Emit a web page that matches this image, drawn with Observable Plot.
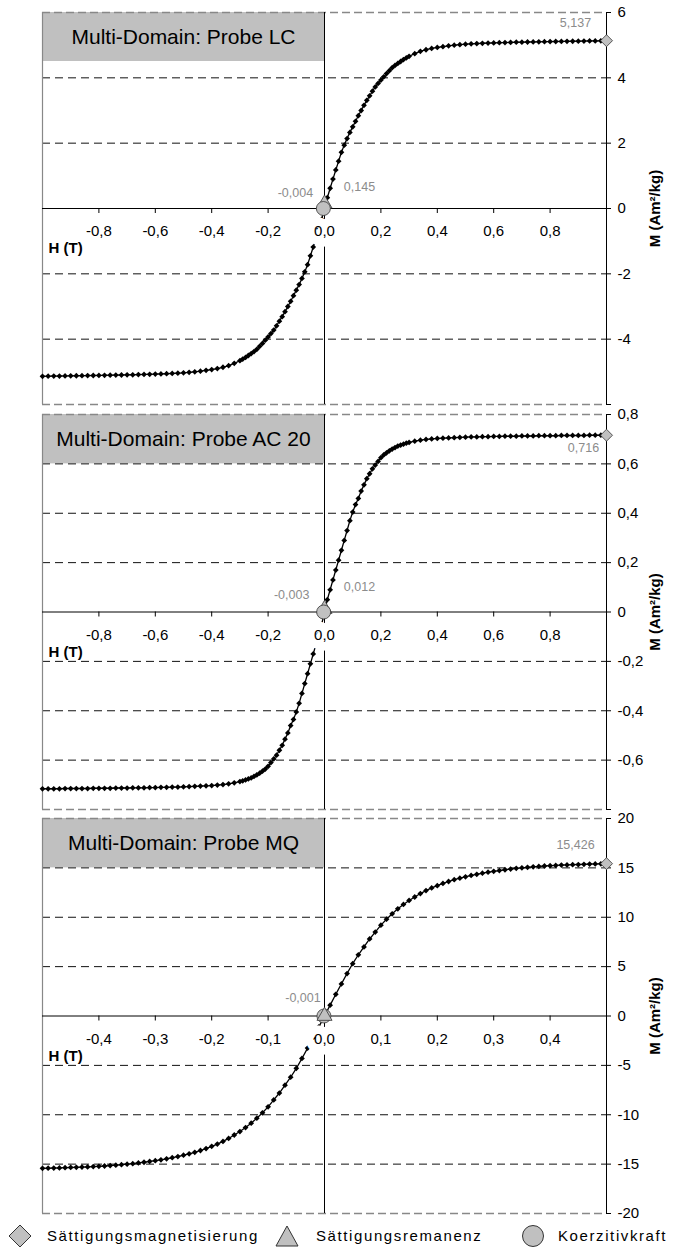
<!DOCTYPE html>
<html><head><meta charset="utf-8">
<script src="https://cdn.jsdelivr.net/npm/d3@7"></script>
<script src="https://cdn.jsdelivr.net/npm/@observablehq/plot@0.6"></script>
<style>
body{margin:0;background:#fff;font-family:"Liberation Sans",Arial,sans-serif;}
#wrap{width:675px;}
#wrap svg{display:block;overflow:visible;}
#legend{position:relative;width:675px;height:40px;font-family:"Liberation Sans",Arial,sans-serif;font-size:15px;letter-spacing:1.6px;color:#000;}
#legend .sym{position:absolute;top:6px;}
#legend .lab{position:absolute;top:9px;line-height:18px;white-space:nowrap;}
</style></head><body>
<div id="wrap"></div>
<script>
// ---------- data ----------
const hWide = [-1.00,-0.98,-0.96,-0.94,-0.92,-0.90,-0.88,-0.86,-0.84,-0.82,-0.80,-0.78,-0.76,-0.74,-0.72,-0.70,-0.68,-0.66,-0.64,-0.62,-0.60,-0.58,-0.56,-0.54,-0.52,-0.50,-0.48,-0.46,-0.44,-0.42,-0.40,-0.38,-0.36,-0.34,-0.32,
 -0.30,-0.29,-0.28,-0.27,-0.26,-0.25,-0.24,-0.23,-0.22,-0.21,-0.20,-0.19,-0.18,-0.17,-0.16,-0.15,-0.14,-0.13,-0.12,-0.11,-0.10,-0.09,-0.08,-0.07,-0.06,-0.05,-0.04,-0.03,-0.02,-0.01,
 0,0.01,0.02,0.03,0.04,0.05,0.06,0.07,0.08,0.09,0.10,0.11,0.12,0.13,0.14,0.15,0.16,0.17,0.18,0.19,0.20,0.21,0.22,0.23,0.24,0.25,0.26,0.27,0.28,0.29,0.30,
 0.32,0.34,0.36,0.38,0.40,0.42,0.44,0.46,0.48,0.50,0.52,0.54,0.56,0.58,0.60,0.62,0.64,0.66,0.68,0.70,0.72,0.74,0.76,0.78,0.80,0.82,0.84,0.86,0.88,0.90,0.92,0.94,0.96,0.98,1.00];

const lcM = [-5.137,-5.134,-5.131,-5.129,-5.126,-5.123,-5.12,-5.118,-5.115,-5.112,-5.109,-5.106,-5.103,-5.10,-5.097,-5.093,-5.09,-5.085,-5.08,-5.076,-5.07,-5.065,-5.058,-5.05,-5.04,-5.03,-5.015,-5.00,-4.98,-4.955,-4.93,-4.90,-4.86,-4.81,-4.74,
 -4.66,-4.61,-4.56,-4.50,-4.44,-4.38,-4.31,-4.22,-4.13,-4.03,-3.93,-3.83,-3.72,-3.59,-3.45,-3.31,-3.16,-3.00,-2.84,-2.67,-2.50,-2.33,-2.14,-1.94,-1.72,-1.45,-1.18,-0.90,-0.62,-0.33,
 0,0.33,0.62,0.90,1.18,1.45,1.72,1.94,2.14,2.33,2.50,2.67,2.84,3.00,3.16,3.31,3.45,3.59,3.72,3.83,3.93,4.03,4.13,4.22,4.31,4.38,4.44,4.50,4.56,4.61,4.66,
 4.74,4.81,4.86,4.90,4.93,4.955,4.98,5.00,5.015,5.03,5.04,5.05,5.058,5.065,5.07,5.076,5.08,5.085,5.09,5.093,5.097,5.10,5.103,5.106,5.109,5.112,5.115,5.118,5.12,5.123,5.126,5.129,5.131,5.134,5.137];

const ac20M = [-0.716,-0.716,-0.716,-0.716,-0.715,-0.715,-0.715,-0.715,-0.715,-0.714,-0.714,-0.714,-0.714,-0.713,-0.713,-0.713,-0.712,-0.712,-0.712,-0.711,-0.711,-0.710,-0.710,-0.709,-0.709,-0.708,-0.707,-0.706,-0.705,-0.704,-0.703,-0.701,-0.699,-0.696,-0.692,
 -0.687,-0.684,-0.68,-0.676,-0.672,-0.666,-0.66,-0.653,-0.645,-0.636,-0.625,-0.61,-0.595,-0.58,-0.56,-0.54,-0.515,-0.49,-0.46,-0.435,-0.405,-0.37,-0.33,-0.29,-0.25,-0.21,-0.17,-0.13,-0.09,-0.05,
 0,0.05,0.09,0.13,0.17,0.21,0.25,0.29,0.33,0.37,0.405,0.435,0.46,0.49,0.515,0.54,0.56,0.58,0.595,0.61,0.625,0.636,0.645,0.653,0.66,0.666,0.672,0.676,0.68,0.684,0.687,
 0.692,0.696,0.699,0.701,0.703,0.704,0.705,0.706,0.707,0.708,0.709,0.709,0.710,0.710,0.711,0.711,0.712,0.712,0.712,0.713,0.713,0.713,0.714,0.714,0.714,0.714,0.715,0.715,0.715,0.715,0.715,0.716,0.716,0.716,0.716];

const hMQ = [-0.50,-0.49,-0.48,-0.47,-0.46,-0.45,-0.44,-0.43,-0.42,-0.41,-0.40,-0.39,-0.38,-0.37,-0.36,-0.35,-0.34,-0.33,-0.32,-0.31,-0.30,-0.29,-0.28,-0.27,-0.26,-0.25,-0.24,-0.23,-0.22,-0.21,-0.20,-0.19,-0.18,-0.17,-0.16,-0.15,-0.14,-0.13,-0.12,-0.11,-0.10,-0.09,-0.08,-0.07,-0.06,-0.05,-0.04,-0.03,-0.02,-0.01,
 0,0.01,0.02,0.03,0.04,0.05,0.06,0.07,0.08,0.09,0.10,0.11,0.12,0.13,0.14,0.15,0.16,0.17,0.18,0.19,0.20,0.21,0.22,0.23,0.24,0.25,0.26,0.27,0.28,0.29,0.30,0.31,0.32,0.33,0.34,0.35,0.36,0.37,0.38,0.39,0.40,0.41,0.42,0.43,0.44,0.45,0.46,0.47,0.48,0.49,0.50];

const mqM = [-15.426,-15.41,-15.40,-15.38,-15.36,-15.34,-15.32,-15.30,-15.28,-15.25,-15.22,-15.19,-15.15,-15.11,-15.06,-15.01,-14.95,-14.88,-14.81,-14.73,-14.65,-14.56,-14.46,-14.35,-14.23,-14.1,-13.96,-13.8,-13.62,-13.42,-13.2,-12.97,-12.7,-12.4,-12.05,-11.7,-11.3,-10.85,-10.35,-9.8,-9.2,-8.5,-7.8,-7.0,-6.2,-5.3,-4.3,-3.25,-2.2,-1.1,
 0,1.1,2.2,3.25,4.3,5.3,6.2,7.0,7.8,8.5,9.2,9.8,10.35,10.85,11.3,11.7,12.05,12.4,12.7,12.97,13.2,13.42,13.62,13.8,13.96,14.1,14.23,14.35,14.46,14.56,14.65,14.73,14.81,14.88,14.95,15.01,15.06,15.11,15.15,15.19,15.22,15.25,15.28,15.30,15.32,15.34,15.36,15.38,15.40,15.41,15.426];

const panelTitles = ["Multi-Domain: Probe LC", "Multi-Domain: Probe AC 20", "Multi-Domain: Probe MQ"];
const saturation = [5.137, 0.716, 15.426];      // Sättigungsmagnetisierung
const remanence  = [0.145, 0.012, 0.0];         // Sättigungsremanenz
const coercivity = [-0.004, -0.003, -0.001];    // Koerzitivkraft
const saturationLabels = ["5,137", "0,716", "15,426"];
const remanenceLabels  = ["0,145", "0,012", ""];
const coercivityLabels = ["-0,004", "-0,003", "-0,001"];

const xTicksWide = [-0.8,-0.6,-0.4,-0.2,0.0,0.2,0.4,0.6,0.8];
const xTicksMQ   = [-0.4,-0.3,-0.2,-0.1,0.0,0.1,0.2,0.3,0.4];
const yTicksLC   = [-6,-4,-2,0,2,4,6];
const yTicksAC   = [-0.8,-0.6,-0.4,-0.2,0,0.2,0.4,0.6,0.8];
const yTicksMQ   = [-20,-15,-10,-5,0,5,10,15,20];
const yLabelsLC  = [-4,-2,0,2,4,6];
const yLabelsAC  = [-0.6,-0.4,-0.2,0,0.2,0.4,0.6,0.8];
const yLabelsMQ  = [-20,-15,-10,-5,0,5,10,15,20];

const xAxisTitle = "H (T)";
const yAxisTitle = "M (Am²/kg)";
const legendItems = ["Sättigungsmagnetisierung", "Sättigungsremanenz", "Koerzitivkraft"];

// ---------- drawing ----------
const FONT = "'Liberation Sans', Arial, sans-serif";
const comma = (d, n) => d.toFixed(n).replace(".", ",").replace("-0,0", "0,0");

function panel(cfg) {
  const W = 675, ml = 42, mrg = 69;
  const plotH = cfg.height - cfg.mt - cfg.mb, plotW = W - ml - mrg;
  const [x0, x1] = cfg.xDom, [y0, y1] = cfg.yDom;
  const ypp = (y1 - y0) / plotH, xpp = (x1 - x0) / plotW;
  const data = cfg.H.map((h, i) => ({h, m: cfg.M[i]}));
  const grid = cfg.yTicks.filter(v => v !== 0 && v !== y0 && v !== y1);
  const xNonZero = cfg.xTicks.filter(v => v !== 0);
  const i = cfg.idx;
  const tri = Plot.dot([0], {x: () => 0, y: () => remanence[i], symbol: "triangle", r: 5.6, fill: "#c0c0c0", stroke: "#333", strokeWidth: 0.8});
  const circ = Plot.dot([0], {x: () => coercivity[i], y: () => 0, r: 7, fill: "#c0c0c0", stroke: "#333", strokeWidth: 0.8});
  const special = cfg.triOnTop ? [circ, tri] : [tri, circ];
  return Plot.plot({
    width: W, height: cfg.height,
    marginLeft: ml, marginRight: mrg, marginTop: cfg.mt, marginBottom: cfg.mb,
    x: {domain: cfg.xDom, axis: null},
    y: {domain: cfg.yDom, axis: null},
    style: {fontFamily: FONT, background: "transparent", overflow: "visible"},
    marks: [
      // title box
      Plot.rect([0], {x1: () => x0, x2: () => 0, y1: () => y1 - (y1 - y0) / 8, y2: () => y1, fill: "#c0c0c0"}),
      // gridlines
      Plot.ruleY(grid, {stroke: "#111", strokeDasharray: "8,5", strokeWidth: 1}),
      Plot.ruleY([y0, y1], {stroke: "#888", strokeDasharray: "8,4", strokeWidth: 1.6}),
      Plot.ruleX([x0], {stroke: "#888", strokeWidth: 1.2}),
      // axes
      Plot.ruleY([0], {stroke: "#000", strokeWidth: 1}),
      Plot.ruleX([0, x1], {stroke: "#000", strokeWidth: 1}),
      Plot.ruleX(xNonZero, {x: d => d, y1: () => 0, y2: () => -5 * ypp, stroke: "#000"}),
      Plot.ruleY(cfg.yTicks, {y: d => d, x1: () => x1, x2: () => x1 + 5 * xpp, stroke: "#000"}),
      // curve
      Plot.line(data, {x: "h", y: "m", stroke: "#000", strokeWidth: 1.3}),
      Plot.dot(data, {x: "h", y: "m", symbol: "diamond2", r: 2.6, fill: "#000", stroke: "none"}),
      // tick labels
      Plot.text(xNonZero, {x: d => d, y: () => 0, dy: 23, text: d => comma(d, cfg.xDigits), fontSize: 15, fill: "#000"}),
      Plot.text([0], {x: () => 0, y: () => 0, dy: 23, text: () => "0,0", fontSize: 15, fill: "#000",
        stroke: "white", strokeWidth: 17, strokeLinejoin: "round", paintOrder: "stroke"}),
      Plot.text(cfg.yLabels, {x: () => x1, y: d => d, dx: 11, textAnchor: "start", text: cfg.fmtY, fontSize: 15, fill: "#000"}),
      // axis titles
      Plot.text([0], {x: () => x0, y: () => 0, dx: 6, dy: 40, textAnchor: "start", text: () => xAxisTitle, fontSize: 15, fontWeight: "bold", fill: "#000"}),
      Plot.text([0], {x: () => x1, y: () => (y0 + y1) / 2, dx: 49, rotate: -90, text: () => yAxisTitle, fontSize: 15, fontWeight: "bold", fill: "#000"}),
      // panel title
      Plot.text([panelTitles[i]], {x: () => (x0 + 0) / 2, y: () => y1 - (y1 - y0) / 16, text: d => d, fontSize: 21, fill: "#000"}),
      // special markers
      ...special,
      Plot.dot([0], {x: () => x1, y: () => saturation[i], symbol: "diamond2", r: 5.4, fill: "#c0c0c0", stroke: "#333", strokeWidth: 0.8}),
      // annotations
      Plot.text([saturationLabels[i]], {x: () => x1, y: () => saturation[i], dx: cfg.msOff[0], dy: cfg.msOff[1], text: d => d, fontSize: 12.5, fill: "#8c8c8c"}),
      Plot.text([coercivityLabels[i]], {x: () => coercivity[i], y: () => 0, dx: cfg.hcOff[0], dy: cfg.hcOff[1], text: d => d, fontSize: 12.5, fill: "#8c8c8c"}),
      Plot.text([remanenceLabels[i]], {x: () => 0, y: () => remanence[i], dx: cfg.mrOff[0], dy: cfg.mrOff[1], text: d => d, fontSize: 12.5, fill: "#8c8c8c"})
    ]
  });
}

const wrap = document.getElementById("wrap");
wrap.append(panel({idx: 0, H: hWide, M: lcM, xDom: [-1, 1], yDom: [-6, 6], xTicks: xTicksWide, xDigits: 1,
  yTicks: yTicksLC, yLabels: yLabelsLC, fmtY: d => String(d), height: 409, mt: 12, mb: 5,
  msOff: [-31, -18], hcOff: [-28, -16], mrOff: [35, -17], triOnTop: false}));
wrap.append(panel({idx: 1, H: hWide, M: ac20M, xDom: [-1, 1], yDom: [-0.8, 0.8], xTicks: xTicksWide, xDigits: 1,
  yTicks: yTicksAC, yLabels: yLabelsAC, fmtY: d => d === 0 ? "0" : comma(d, 1), height: 405, mt: 5, mb: 5,
  msOff: [-23, 13], hcOff: [-32, -17], mrOff: [35, -22], triOnTop: false}));
wrap.append(panel({idx: 2, H: hMQ, M: mqM, xDom: [-0.5, 0.5], yDom: [-20, 20], xTicks: xTicksMQ, xDigits: 1,
  yTicks: yTicksMQ, yLabels: yLabelsMQ, fmtY: d => String(d), height: 404, mt: 4, mb: 5,
  msOff: [-31, -19], hcOff: [-21, -18], mrOff: [35, -20], triOnTop: true}));

// legend
const legend = document.createElement("div");
legend.id = "legend";
const symbols = [
  '<polygon points="12,1 23,12 12,23 1,12" fill="#c0c0c0" stroke="#333" stroke-width="1"/>',
  '<polygon points="12,2 23,22 1,22" fill="#c0c0c0" stroke="#333" stroke-width="1"/>',
  '<circle cx="12" cy="12" r="10.5" fill="#c0c0c0" stroke="#333" stroke-width="1"/>'
];
const symX = [8, 275, 521];
const labX = [47, 316, 558];
legendItems.forEach((t, k) => {
  const s = document.createElement("div");
  s.className = "sym"; s.style.left = symX[k] + "px";
  s.innerHTML = '<svg width="24" height="24" viewBox="0 0 24 24">' + symbols[k] + '</svg>';
  const l = document.createElement("div");
  l.className = "lab"; l.style.left = labX[k] + "px"; l.textContent = t;
  legend.append(s, l);
});
wrap.append(legend);
</script>
</body></html>
